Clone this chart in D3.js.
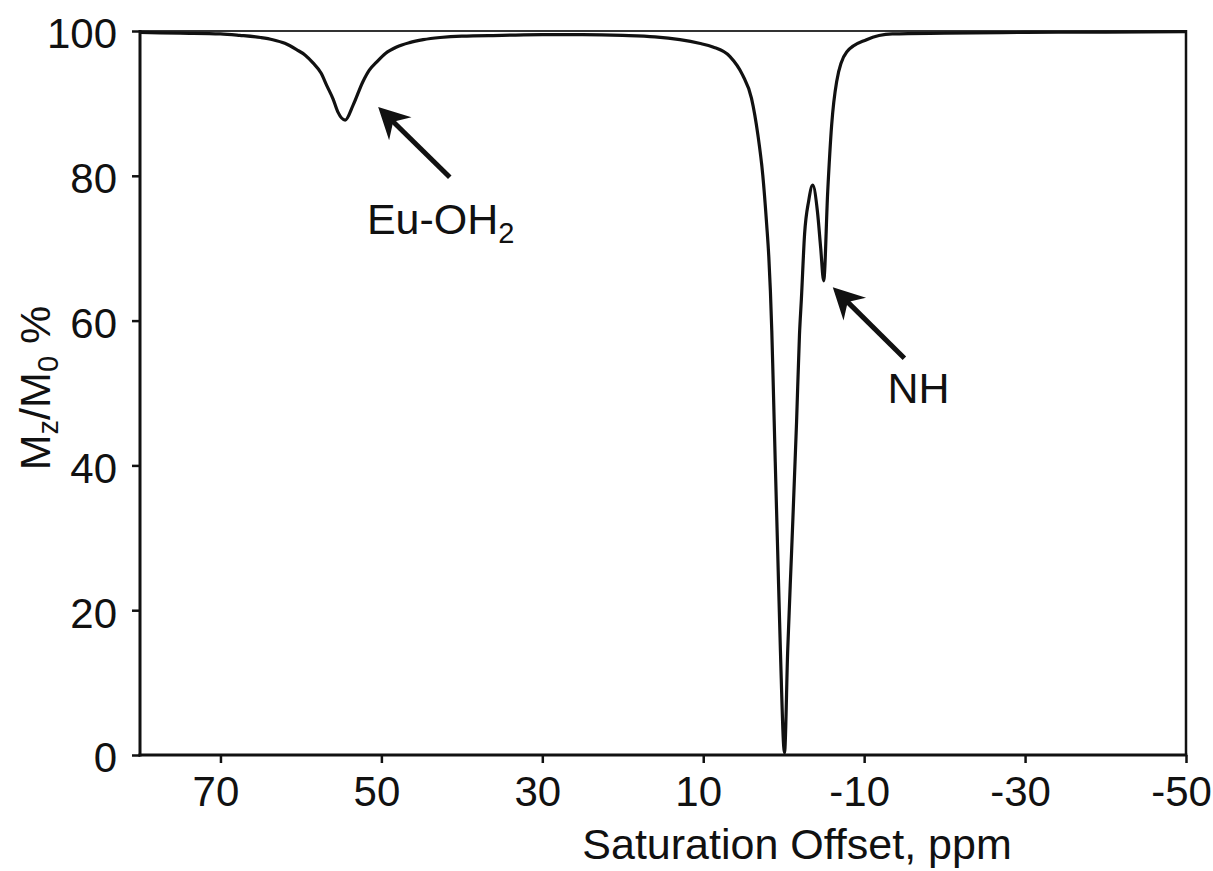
<!DOCTYPE html>
<html>
<head>
<meta charset="utf-8">
<script src="https://cdn.jsdelivr.net/npm/d3@7"></script>
<style>
  html, body { margin: 0; padding: 0; background: #fff; }
  svg { display: block; }
  text { font-family: "Liberation Sans", Arial, sans-serif; fill: #111; }
</style>
</head>
<body>
<svg id="chart" width="1213" height="871"></svg>
<script>
// ---- data (ppm offset, Mz/M0 %) ----
const offsetPpm = [80, 75, 70, 67.6, 65, 63.5, 62, 60.5, 59.5, 58.5, 57.5, 56.8, 56, 55.4, 54.5,
  53.5, 52.3, 51.5, 50.6, 49.5, 48.1, 46.5, 44.8, 42.7, 40, 35, 30, 25, 20, 16, 12.9, 10.5,
  8.8, 6.7, 5.1, 4.0, 3.2, 2.6, 2.11, 1.85, 1.65, 1.48, 1.33, 1.05, 0.75, 0.41, -0.1, -0.5, -0.99, -1.6,
  -1.96, -2.2, -2.6, -3.1, -3.6, -4.2, -4.6, -4.97, -5.47, -5.96, -6.58, -7.83, -10.3, -13.5,
  -20, -30, -40, -50];
const mzValues = [99.8, 99.7, 99.6, 99.4, 99.1, 98.8, 98.3, 97.4, 96.7, 95.6, 94.2, 92.5, 90.6, 88.8, 87.7,
  89.8, 93.0, 94.6, 95.7, 96.9, 97.8, 98.4, 98.8, 99.1, 99.3, 99.4, 99.5, 99.5, 99.4, 99.2, 98.8, 98.3,
  97.8, 96.5, 93.9, 90.7, 85.6, 80.1, 73.2, 68.8, 64.0, 58.6, 52.5, 40.5, 28.3, 14.5, 0.3, 14.5, 28.3, 46,
  58, 63, 72, 76.5, 78.7, 75, 70, 65.5, 77.8, 87, 93, 97.1, 98.8, 99.6,
  99.7, 99.8, 99.85, 99.9];

const xTicks = [70, 50, 30, 10, -10, -30, -50];
const yTicks = [0, 20, 40, 60, 80, 100];

// annotations: [tip ppm, tip %], [tail ppm, tail %]
const annoNames = ["Eu-OH", "NH"];
const annoSubs = ["2", ""];
const arrowTip = [[50.4, 89.5], [-6.1, 64.6]];
const arrowTail = [[41.5, 79.8], [-15.0, 54.8]];
const labelPos = [[51.8, 71.9], [-12.9, 48.6]];

// ---- layout ----
const svg = d3.select("#chart");
const mLeft = 140, mRight = 1186, mTop = 31, mBottom = 755;
const x = d3.scaleLinear().domain([80, -50]).range([mLeft, mRight]);
const y = d3.scaleLinear().domain([0, 100]).range([mBottom, mTop]);
const FS = 43;

// frame top (thin)
svg.append("line").attr("x1", mLeft).attr("x2", mRight).attr("y1", mTop).attr("y2", mTop)
  .attr("stroke", "#333").attr("stroke-width", 2);
// right spine
svg.append("line").attr("x1", mRight).attr("x2", mRight).attr("y1", mTop - 1).attr("y2", mBottom)
  .attr("stroke", "#111").attr("stroke-width", 2.5);

// curve
const pts = offsetPpm.map((p, i) => [p, mzValues[i]]);
const line = d3.line().x(d => x(d[0])).y(d => y(d[1])).curve(d3.curveMonotoneX);
svg.append("path").datum(pts).attr("d", line)
  .attr("fill", "none").attr("stroke", "#111").attr("stroke-width", 3.2)
  .attr("stroke-linejoin", "round");

// axes
const fmt = d => String(d);  // plain hyphen minus, as in the reference
const xAxis = svg.append("g").attr("transform", `translate(0,${mBottom})`)
  .call(d3.axisBottom(x).tickValues(xTicks).tickSize(8).tickPadding(10).tickFormat(fmt));
const yAxis = svg.append("g").attr("transform", `translate(${mLeft},0)`)
  .call(d3.axisLeft(y).tickValues(yTicks).tickSize(8).tickPadding(15).tickFormat(fmt));
[xAxis, yAxis].forEach(g => {
  g.select(".domain").attr("stroke", "#111").attr("stroke-width", 3);
  g.selectAll(".tick line").attr("stroke", "#111").attr("stroke-width", 2.5);
  g.selectAll(".tick text").style("font-family", "'Liberation Sans', Arial, sans-serif")
    .style("font-size", "42px").attr("fill", "#111");
});
xAxis.select(".domain").attr("d", `M${mLeft - 1.5},0H${mRight + 1.25}`);
yAxis.select(".domain").attr("d", `M0,${mBottom + 1.5}V${mTop - 1}`);
xAxis.selectAll(".tick text").attr("dy", "0.78em").attr("dx", -5);
yAxis.selectAll(".tick text").attr("dy", "0.4em");

// axis titles
svg.append("text").attr("x", 797).attr("y", 859).attr("text-anchor", "middle")
  .style("font-size", FS + "px").text("Saturation Offset, ppm");

const yt = svg.append("text").attr("transform", "translate(50,388) rotate(-90)")
  .attr("text-anchor", "middle").style("font-size", FS + "px");
yt.append("tspan").text("M");
yt.append("tspan").attr("dy", 8).style("font-size", "29px").text("z");
yt.append("tspan").attr("dy", -8).text("/M");
yt.append("tspan").attr("dy", 8).style("font-size", "29px").text("0");
yt.append("tspan").attr("dy", -8).text(" %");

// arrows
annoNames.forEach((name, i) => {
  const tx = x(arrowTip[i][0]), ty = y(arrowTip[i][1]);
  const sx = x(arrowTail[i][0]), sy = y(arrowTail[i][1]);
  const ang = Math.atan2(ty - sy, tx - sx) * 180 / Math.PI;
  const len = Math.hypot(tx - sx, ty - sy);
  const g = svg.append("g").attr("transform", `translate(${tx},${ty}) rotate(${ang})`);
  g.append("line").attr("x1", -20).attr("y1", 0).attr("x2", -len).attr("y2", 0)
    .attr("stroke", "#111").attr("stroke-width", 5);
  g.append("path").attr("d", "M0,0 L-31,-16 L-21,0 L-31,16 Z").attr("fill", "#111");

  const t = svg.append("text").attr("x", x(labelPos[i][0])).attr("y", y(labelPos[i][1]))
    .style("font-size", FS + "px").text(name);
  if (annoSubs[i]) {
    t.append("tspan").attr("dy", 9).style("font-size", "29px").text(annoSubs[i]);
  }
});
</script>
</body>
</html>
